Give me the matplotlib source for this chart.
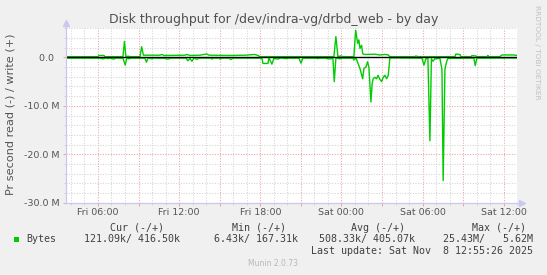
import numpy as np
from matplotlib import pyplot as plt
from matplotlib.patches import Rectangle

# time axis: hours since Fri 00:00, values in MB/s
write_hours = [3.64, 6.00, 6.08, 6.44, 6.52, 7.85, 7.96, 8.07, 8.22, 8.37, 9.11, 9.23, 9.36,
               10.58, 10.73, 10.88, 12.43, 12.58, 12.80, 13.54, 14.04, 14.21, 15.76, 16.87,
               17.60, 17.83, 17.97, 20.93, 23.44, 23.59, 23.74, 23.96, 24.11, 24.92, 25.05,
               25.20, 25.29, 25.37, 25.49, 25.57, 25.66, 26.47, 26.84, 27.21, 27.43, 27.58,
               29.43, 29.50, 29.65, 32.39, 32.46, 32.76, 32.83, 33.57, 33.64, 33.94, 34.01,
               34.75, 34.83, 34.90, 35.71, 35.86, 36.75, 36.90, 37.00]
write_mb = [0.15, 0.15, 0.4, 0.4, 0.15, 0.15, 3.3, 0.1, 0.25, 0.15, 0.15, 2.2, 0.45,
            0.45, 0.6, 0.4, 0.45, 0.6, 0.4, 0.45, 0.7, 0.45, 0.4, 0.45,
            0.6, 0.4, 0.15, 0.15, 0.15, 4.3, 0.15, 0.3, 0.15, 0.15, 5.62,
            2.9, 3.6, 1.85, 2.5, 0.8, 0.6, 0.65, 0.5, 0.6, 0.55, 0.15,
            0.15, 0.3, 0.15, 0.15, 0.7, 0.6, 0.15, 0.15, 0.35, 0.3, 0.15,
            0.15, 0.4, 0.15, 0.15, 0.5, 0.5, 0.42, 0.42]

read_hours = [3.64, 6.15, 6.37, 6.59, 6.74, 6.89, 7.18, 7.33, 7.85, 8.02, 8.14, 8.29, 8.44,
              9.47, 9.59, 9.70, 9.99, 10.14, 10.58, 10.81, 11.17, 11.40, 12.51, 12.65, 12.80,
              12.95, 13.10, 13.32, 13.47, 14.35, 14.43, 14.57, 14.94, 15.02, 15.17, 15.68,
              15.83, 15.98, 18.12, 18.20, 18.57, 18.64, 18.86, 19.01, 19.30, 19.53, 19.90,
              20.12, 20.86, 21.01, 21.15, 22.11, 22.26, 22.41, 22.85, 23.00, 23.22, 23.37,
              23.47, 23.59, 23.89, 24.04, 24.85, 24.92, 25.07, 25.18, 25.37, 25.57, 25.66,
              25.81, 25.93, 26.03, 26.18, 26.27, 26.35, 26.47, 26.60, 26.70, 26.84, 26.97,
              27.09, 27.21, 27.34, 27.46, 27.58, 29.95, 30.10, 30.24, 30.39, 30.54, 30.65,
              30.76, 30.91, 31.28, 31.43, 31.52, 31.65, 31.76, 31.87, 33.79, 33.89, 34.01,
              37.00]
read_mb = [0.15, 0.15, 0.3, 0.15, 0.25, 0.15, 0.35, 0.15, 0.15, 1.6, 0.1, 0.3, 0.15,
           0.15, 1.0, 0.1, 0.3, 0.15, 0.2, 0.15, 0.35, 0.15, 0.15, 0.7, 0.2,
           0.8, 0.1, 0.4, 0.15, 0.15, 0.35, 0.15, 0.15, 0.35, 0.15, 0.15,
           0.45, 0.15, 0.15, 1.25, 1.25, 0.1, 1.4, 0.2, 0.35, 0.1, 0.25,
           0.15, 0.15, 1.2, 0.15, 0.15, 0.25, 0.15, 0.15, 0.3, 0.3, 0.15,
           5.0, 0.1, 0.3, 0.15, 0.15, 0.55, 0.1, 0.9, 2.3, 4.4, 2.3,
           2.0, 0.9, 2.0, 9.2, 5.4, 4.4, 4.1, 4.4, 3.7, 4.5, 5.0,
           4.1, 3.7, 4.4, 3.7, 0.1, 0.15, 1.6, 0.3, 0.1, 17.2, 0.3,
           0.8, 0.3, 0.2, 2.5, 25.43, 2.5, 1.0, 0.2, 0.15, 1.7, 0.15,
           0.12]

xtick_hours = [6, 12, 18, 24, 30, 36]
xtick_labels = ['Fri 06:00', 'Fri 12:00', 'Fri 18:00', 'Sat 00:00', 'Sat 06:00', 'Sat 12:00']
ytick_vals = [0, -10, -20, -30]
ytick_labels = ['0.0  ', '-10.0 M', '-20.0 M', '-30.0 M']

legend_heads = ['Cur (-/+)', 'Min (-/+)', 'Avg (-/+)', 'Max (-/+)']
legend_vals = ['121.09k/ 416.50k', '6.43k/ 167.31k', '508.33k/ 405.07k', '25.43M/   5.62M']

W, H = 547, 275


def fx(px):
    return px / W


def fy(py):
    return 1 - py / H


if __name__ == '__main__':
    fig = plt.figure(figsize=(W / 100, H / 100), dpi=100, facecolor='#F0F0F0')
    ax = fig.add_axes([fx(66), fy(202.8), (517.3 - 66) / W, (202.8 - 28.3) / H])
    ax.set_facecolor('white')

    green = '#00CC00'
    ax.plot(write_hours, write_mb, color=green, lw=1.0, zorder=3)
    ax.plot(read_hours, -np.array(read_mb), color=green, lw=1.0, zorder=3)
    ax.axhline(0, color='black', lw=1.0, zorder=4)

    ax.set_xlim(3.64, 37.0)
    ax.set_ylim(-30, 6)

    # grid: red every 3h / 10M, grey every 1h / 2M
    ax.set_xticks(np.arange(6, 37, 3))
    ax.set_xticks(np.arange(4, 38, 1), minor=True)
    ax.set_xticklabels([xtick_labels[xtick_hours.index(h)] if h in xtick_hours else ''
                        for h in np.arange(6, 37, 3)])
    ax.set_yticks(ytick_vals)
    ax.set_yticklabels(ytick_labels)
    ax.set_yticks(np.arange(-30, 7, 2), minor=True)

    ax.grid(which='minor', color='#D4D4D4', linestyle=(0, (1, 1.5)), lw=0.75, zorder=1)
    ax.grid(which='major', color='#F0A0A0', linestyle=(0, (1, 1.5)), lw=0.75, zorder=2)

    ax.tick_params(which='major', axis='both', length=2.2, width=0.7, color='#F0A0A0',
                   labelsize=6.8, labelcolor='#555555')
    ax.tick_params(which='minor', axis='both', length=1.5, width=0.7, color='#D4D4D4')
    ax.tick_params(axis='x', pad=1.8)
    ax.tick_params(axis='y', pad=2.2)

    for s in ax.spines.values():
        s.set_visible(False)
    axis_col = '#C8C8F0'
    ax.plot([0, 0], [0, 1.025], color=axis_col, lw=0.9, transform=ax.transAxes, clip_on=False, zorder=5)
    ax.plot([0, 1.006], [0, 0], color=axis_col, lw=0.9, transform=ax.transAxes, clip_on=False, zorder=5)
    ax.plot([0], [1.03], marker='^', ms=4, color=axis_col, transform=ax.transAxes, clip_on=False)
    ax.plot([1.01], [0], marker='>', ms=4, color=axis_col, transform=ax.transAxes, clip_on=False)

    fig.text(fx(273.5), fy(19.5), 'Disk throughput for /dev/indra-vg/drbd_web - by day',
             ha='center', va='center', fontsize=9.0, color='#505050')
    fig.text(fx(10.5), fy(114), 'Pr second read (-) / write (+)', rotation=90,
             ha='center', va='center', fontsize=8.1, color='#555555')
    fig.text(fx(537.5), fy(52), 'RRDTOOL / TOBI OETIKER', rotation=270,
             ha='center', va='center', fontsize=5.3, color='#C0C0C0')

    mono = dict(family='DejaVu Sans Mono', fontsize=7.2, color='#404040', va='center')
    head_right = [164, 285.7, 404.7, 525.8]
    val_right = [180, 297.7, 415, 533]
    for head, val, hx, vx in zip(legend_heads, legend_vals, head_right, val_right):
        fig.text(fx(hx), fy(227.7), head, ha='right', **mono)
        fig.text(fx(vx), fy(239.3), val, ha='right', **mono)
    fig.text(fx(26.7), fy(239.3), 'Bytes', ha='left', **mono)
    fig.patches.append(Rectangle((fx(14), fy(242)), 5.3 / W, 5.3 / H, transform=fig.transFigure,
                                 facecolor=green, edgecolor='none'))
    fig.text(fx(533), fy(251.3), 'Last update: Sat Nov  8 12:55:26 2025', ha='right', **mono)
    fig.text(fx(273), fy(264), 'Munin 2.0.73', ha='center', va='center', fontsize=5.5,
             color='#B8B8B8')

    plt.savefig('out.png', dpi=100, facecolor=fig.get_facecolor())
